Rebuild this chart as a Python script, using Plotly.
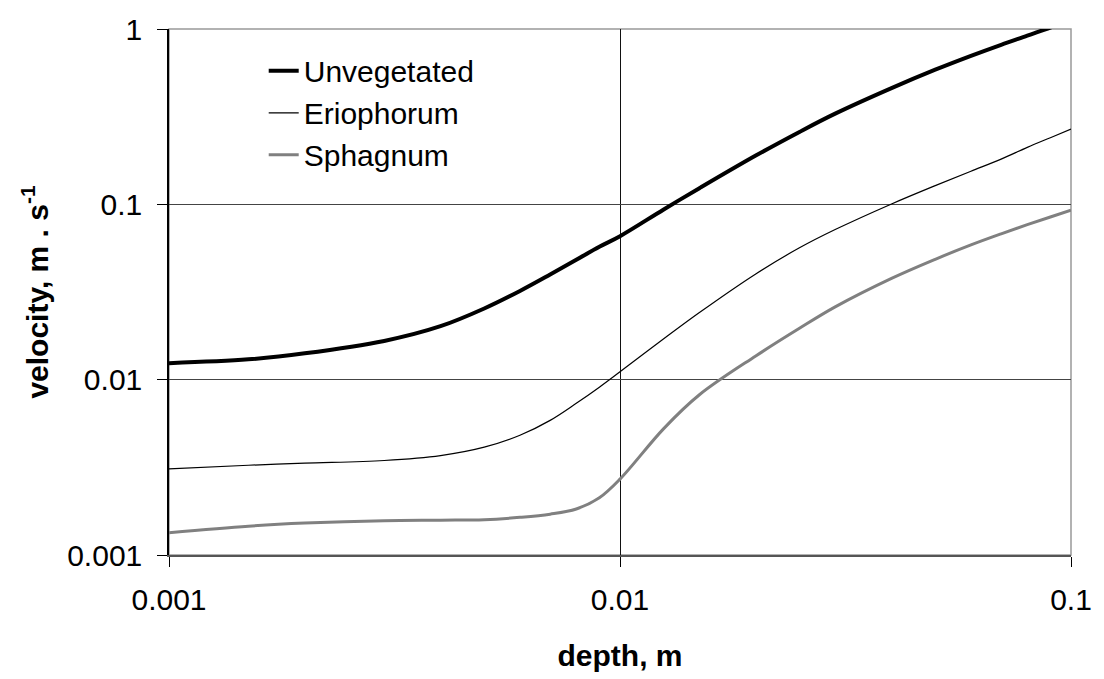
import plotly.graph_objects as go

depth = [0.001, 0.0015, 0.002, 0.003, 0.004, 0.005, 0.006, 0.007, 0.008, 0.009, 0.01,
         0.0125, 0.015, 0.02, 0.025, 0.03, 0.04, 0.05, 0.06, 0.07, 0.08, 0.09, 0.1]

# Velocity (m/s) at each depth
unvegetated = [0.01242, 0.01306, 0.01413, 0.01663, 0.02018, 0.02547, 0.03206, 0.0398, 0.0483, 0.0573, 0.0658,
               0.0935, 0.1236, 0.1897, 0.2588, 0.3289, 0.460, 0.586, 0.703, 0.813, 0.916, 1.019, 1.114]
eriophorum = [0.00310, 0.00325, 0.00334, 0.00346, 0.00369, 0.00412, 0.00482, 0.00586, 0.00733, 0.00906, 0.01109,
              0.01710, 0.02415, 0.0401, 0.0565, 0.0718, 0.1005, 0.1279, 0.1545, 0.1811, 0.2113, 0.2399, 0.2685]
sphagnum = [0.00134, 0.00146, 0.00152, 0.00157, 0.00158, 0.00159, 0.00164, 0.00171, 0.00183, 0.00212, 0.00271,
            0.00526, 0.00820, 0.01365, 0.01963, 0.0260, 0.0378, 0.0486, 0.0587, 0.0679, 0.0766, 0.0847, 0.0927]

series_names = ["Unvegetated", "Eriophorum", "Sphagnum"]

tick_vals_x = [0.001, 0.01, 0.1]
tick_text_x = ["0.001", "0.01", "0.1"]
tick_vals_y = [0.001, 0.01, 0.1, 1]
tick_text_y = ["0.001", "0.01", "0.1", "1"]

FONT = "Liberation Sans, Arial, sans-serif"

fig = go.Figure()
fig.add_trace(go.Scatter(x=depth, y=unvegetated, mode="lines", name=series_names[0],
                         line=dict(color="black", width=4, shape="spline", smoothing=1),
                         legendgroup="a"))
fig.add_trace(go.Scatter(x=depth, y=eriophorum, mode="lines", name=series_names[1],
                         line=dict(color="black", width=1.2, shape="spline", smoothing=1),
                         legendgroup="b"))
fig.add_trace(go.Scatter(x=depth, y=sphagnum, mode="lines", name=series_names[2],
                         line=dict(color="#808080", width=3, shape="spline", smoothing=1),
                         legendgroup="c"))

fig.update_layout(
    width=1104, height=679,
    margin=dict(l=169, r=33, t=23, b=124),
    paper_bgcolor="white", plot_bgcolor="white",
    font=dict(family=FONT, size=30, color="black"),
    showlegend=True,
    legend=dict(x=0.105, y=0.97, xanchor="left", yanchor="top",
                bgcolor="rgba(0,0,0,0)", font=dict(size=30),
                tracegroupgap=0, itemwidth=30),
    shapes=[dict(type="rect", xref="paper", yref="paper", x0=0, y0=0, x1=1, y1=1,
                 line=dict(color="#999999", width=1.5), layer="below")],
)
fig.update_xaxes(type="log", range=[-3, -1], tickvals=tick_vals_x, ticktext=tick_text_x,
                 showgrid=True, gridcolor="#111111", gridwidth=1,
                 showline=True, linecolor="#555555", linewidth=1.5,
                 ticks="outside", ticklen=10, tickcolor="black", tickwidth=1,
                 ticklabelstandoff=7, zeroline=False,
                 title=dict(text="<b>depth, m</b>", font=dict(size=30), standoff=30))
fig.update_yaxes(type="log", range=[-3, 0], tickvals=tick_vals_y, ticktext=tick_text_y,
                 showgrid=True, gridcolor="#444444", gridwidth=1,
                 showline=True, linecolor="black", linewidth=1.5,
                 ticks="outside", ticklen=10, tickcolor="black", tickwidth=1,
                 ticklabelstandoff=9, zeroline=False,
                 title=dict(text="<b>velocity, m . s<sup>-1</sup></b>", font=dict(size=30), standoff=10))

fig.write_html("out.html")
